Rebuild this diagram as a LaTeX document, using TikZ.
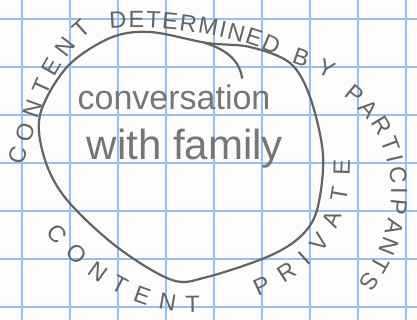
\documentclass[tikz,border=0pt]{standalone}
\usepackage{fontspec}
\setmainfont{Liberation Sans}
\usetikzlibrary{decorations.text}
\definecolor{pencil}{RGB}{100,100,100}
\definecolor{pencillight}{RGB}{118,118,118}
\definecolor{gridblue}{RGB}{150,192,238}
\definecolor{paper}{RGB}{252,252,250}
\tikzset{
  figgrid/.style={gridblue, line width=1.8pt},
  figloop/.style={pencil, line width=2.2pt, line cap=round, line join=round},
  figarc/.style={decorate, decoration={text along path, text align={fit to path},
    text color=pencil, text={#1}}},
  fighand/.style={text=pencillight, inner sep=0pt, anchor=base},
}

\begin{document}
\begin{tikzpicture}[x=1pt, y=-1pt]
  \fontsize{23.5}{24}\selectfont
  \useasboundingbox (0,0) rectangle (417,320);
  \fill[paper] (0,0) rectangle (417,320);
  \foreach \gx in {22,70,...,406} \draw[figgrid] (\gx,0) -- (\gx,320);
  \foreach \gy in {19,67,...,307} \draw[figgrid] (0,\gy) -- (417,\gy);

  \draw[figloop] plot[smooth cycle, tension=0.55] coordinates {(207,43) (250,47) (290,63) (310,97) (323,155) (317,210) (300,237) (267,257) (207,277) (172,280) (117,247) (67,200) (45,160) (40,115) (67,67) (110,38) (150,32)};
  \draw[figloop] (205,43) .. controls (228,50) and (240,62) .. (242,78);

  \node[fighand, font=\fontsize{34}{34}\selectfont] (talk) at (174,110) {conversation};
  \node[fighand, font=\fontsize{42}{42}\selectfont] (family) at (185,160) {with family};

  \path[figarc=CONTENT] (24,166) .. controls (36,122) and (52,62) .. (92,30);
  \path[figarc=DETERMINED] (110,29) .. controls (160,24) and (235,35) .. (276,55);
  \path[figarc=BY] (291,63) .. controls (304,67) and (316,72) .. (330,79);
  \path[figarc=PARTICIPANTS] (343,96) .. controls (372,118) and (390,145) .. (391,190) .. controls (391,228) and (378,258) .. (358,283);
  \path[figarc=CONTENT] (46,232) .. controls (84,282) and (142,316) .. (200,312);
  \path[figarc=PRIVATE] (258,296) .. controls (318,270) and (350,235) .. (350,160);
\end{tikzpicture}
\end{document}
